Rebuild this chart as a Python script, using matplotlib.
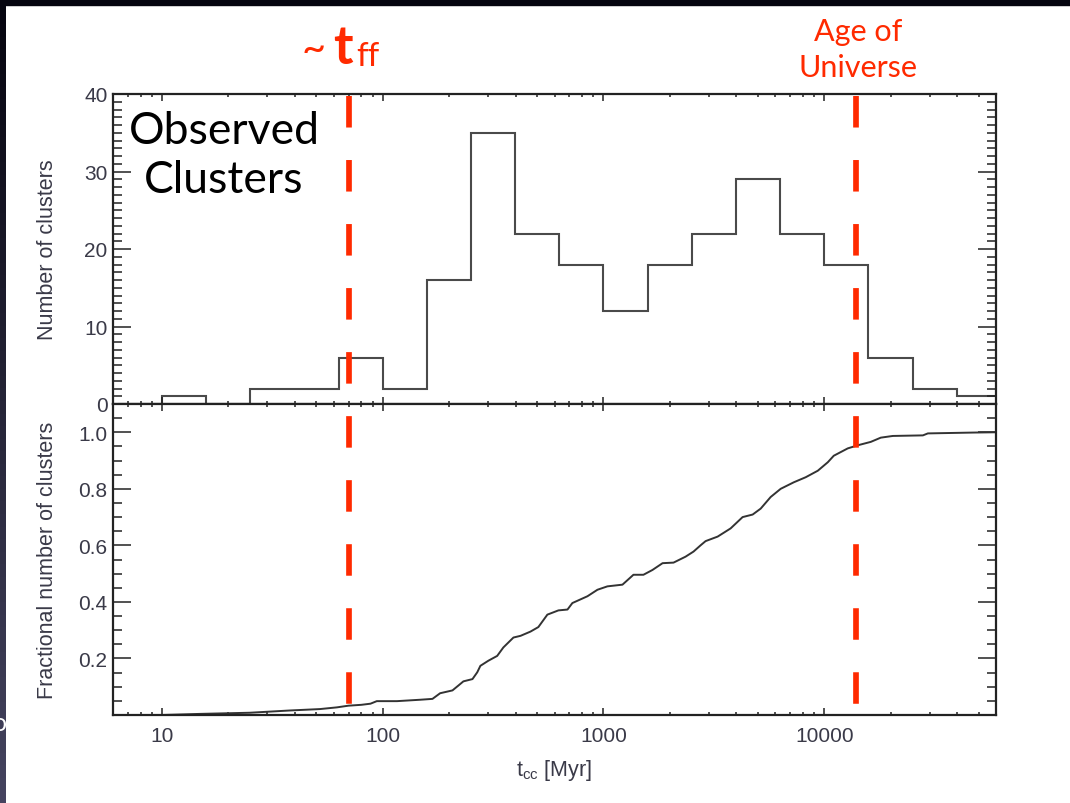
import matplotlib
matplotlib.use("Agg")
import matplotlib.pyplot as plt
import matplotlib.transforms as mtransforms
import numpy as np
from matplotlib.lines import Line2D
from matplotlib.patches import Rectangle
from matplotlib.colors import LinearSegmentedColormap
from matplotlib.ticker import MultipleLocator, FixedLocator, LogLocator, NullFormatter

# histogram of core-collapse times (0.2 dex bins)
bin_edges = [6.31, 10, 15.85, 25.12, 39.81, 63.10, 100, 158.5, 251.2, 398.1, 631.0,
             1000, 1585, 2512, 3981, 6310, 10000, 15849, 25119, 39811, 63096]
counts = [0, 1, 0, 2, 2, 6, 2, 16, 35, 22, 18, 12, 18, 22, 29, 22, 18, 6, 2, 1]

# cumulative fraction
cdf_t = [10, 15, 25, 38, 52, 62, 70, 80, 88, 94, 116, 148, 168, 182, 207, 220, 232,
         255, 268, 277, 301, 330, 352, 391, 421, 467, 507, 557, 625, 687, 723, 846,
         939, 1042, 1219, 1367, 1517, 1667, 1852, 2077, 2354, 2558, 2752, 2901, 3290,
         3767, 4268, 4740, 5155, 5719, 6350, 7276, 8245, 9352, 10381, 11047, 12783,
         14190, 16250, 18040, 20460, 27990, 29480, 47600, 60000]
cdf_frac = [0.0, 0.004, 0.008, 0.016, 0.021, 0.027, 0.033, 0.036, 0.040, 0.049, 0.049,
            0.054, 0.057, 0.077, 0.087, 0.104, 0.119, 0.127, 0.151, 0.174, 0.192, 0.209,
            0.239, 0.274, 0.280, 0.295, 0.311, 0.355, 0.370, 0.373, 0.396, 0.420, 0.443,
            0.455, 0.461, 0.496, 0.496, 0.513, 0.537, 0.539, 0.560, 0.578, 0.600, 0.615,
            0.631, 0.660, 0.700, 0.709, 0.730, 0.771, 0.800, 0.823, 0.841, 0.864, 0.894,
            0.917, 0.943, 0.954, 0.966, 0.981, 0.987, 0.989, 0.996, 0.999, 1.0]

t_ff = 70
t_universe = 14000

W, H = 1070, 804
RED = '#ff2a00'
INK = '#3a3a48'

plt.rcParams['font.family'] = 'Liberation Sans'
plt.rcParams['mathtext.fontset'] = 'custom'
plt.rcParams['mathtext.rm'] = 'Liberation Sans'


def fx(x):
    return x / W


def fy(y):
    return 1 - y / H


fig = plt.figure(figsize=(W / 100, H / 100), dpi=100)
fig.patch.set_facecolor('white')

left, right = 113, 996
ax1 = fig.add_axes([fx(left), fy(405), (right - left) / W, (405 - 95) / H])
ax2 = fig.add_axes([fx(left), fy(716), (right - left) / W, (716 - 405) / H], sharex=ax1)

ax1.stairs(counts, bin_edges, color='#4a4a4a', lw=1.5)
ax2.plot(cdf_t, cdf_frac, color='#333333', lw=1.4)

ax2.set_xscale('log')
ax2.set_xlim(6, 60000)
ax1.set_ylim(0, 40)
ax2.set_ylim(0, 1.1)

for ax in (ax1, ax2):
    for s in ax.spines.values():
        s.set_linewidth(1.6)
        s.set_color('#222222')
    ax.tick_params(which='both', direction='in', top=True, right=True,
                   colors='#222222', labelcolor=INK, labelsize=15, width=1.1)
    ax.tick_params(axis='y', which='major', length=13, pad=4)
    ax.tick_params(axis='y', which='minor', length=6.5)
    ax.tick_params(axis='x', which='major', length=5, pad=8)
    ax.tick_params(axis='x', which='minor', length=2.5)

ax2.xaxis.set_major_locator(FixedLocator([10, 100, 1000, 10000]))
ax2.xaxis.set_minor_locator(LogLocator(subs=np.arange(2, 10)))
ax2.xaxis.set_minor_formatter(NullFormatter())
ax2.set_xticklabels(['10', '100', '1000', '10000'])
ax1.tick_params(axis='x', labelbottom=False)

ax1.yaxis.set_major_locator(MultipleLocator(10))
ax1.yaxis.set_minor_locator(MultipleLocator(1))
ax2.yaxis.set_major_locator(FixedLocator([0.2, 0.4, 0.6, 0.8, 1.0]))
ax2.yaxis.set_minor_locator(MultipleLocator(0.05))
ax2.set_yticklabels(['0.2', '0.4', '0.6', '0.8', '1.0'])

ax1.set_ylabel('Number of clusters', fontsize=15.5, color=INK)
ax2.set_ylabel('Fractional number of clusters', fontsize=15.5, color=INK)
ax1.yaxis.set_label_coords(-0.062, 0.5)
ax2.yaxis.set_label_coords(-0.062, 0.5)
ax2.set_xlabel(r't$_{\rm cc}$ [Myr]', fontsize=15.5, color=INK)
ax2.xaxis.set_label_coords(0.5, -0.135)

# red dashed markers spanning both panels
trans = mtransforms.blended_transform_factory(ax2.transData, fig.transFigure)
lw = 4.1
for xv in (t_ff, t_universe):
    ln = Line2D([xv, xv], [fy(97), fy(706)], transform=trans, color=RED, lw=lw,
                dashes=(22.7 / lw, 23.4 / lw), solid_capstyle='butt')
    fig.add_artist(ln)

# annotations
fig.text(fx(224), fy(156), 'Observed\nClusters', ha='center', va='center',
         fontsize=32, family='Lato', color='black', linespacing=1.25)
fig.text(fx(858), fy(50), 'Age of\nUniverse', ha='center', va='center',
         fontsize=22, family='Lato', color=RED, linespacing=1.35)
fig.text(fx(314), fy(50), '~', ha='center', va='center', fontsize=30,
         family='Lato', color=RED)
fig.text(fx(333), fy(64), 't', ha='left', va='baseline', fontsize=38,
         family='Lato', weight='bold', color=RED)
fig.text(fx(356), fy(66), 'ff', ha='left', va='baseline', fontsize=24,
         family='Lato', color=RED)

# slide background edges
fig.add_artist(Rectangle((0, fy(6)), 1, 6 / H, transform=fig.transFigure,
                         color='#05050f', zorder=5))
edge = fig.add_axes([0, 0, 6 / W, 1])
edge.imshow(np.linspace(0, 1, 64).reshape(-1, 1), aspect='auto',
            cmap=LinearSegmentedColormap.from_list('edge', ['#05050f', '#45435f']))
edge.axis('off')
fig.text(fx(-7), fy(724), 'o', ha='left', va='center', fontsize=18,
         family='Lato', color='white')

fig.savefig('out.png', dpi=100, facecolor='white')
